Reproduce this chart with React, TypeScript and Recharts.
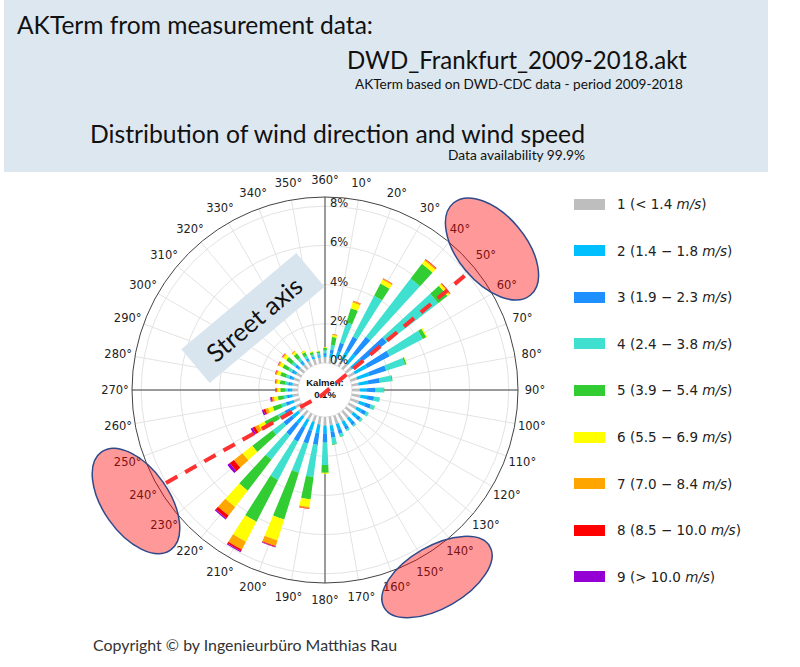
import React from "react";
import {
  RadialBarChart,
  RadialBar,
  PolarAngleAxis,
  PolarRadiusAxis,
  PolarGrid,
} from "recharts";

// wind directions, clockwise from north
const directions = [
  "360°", "10°", "20°", "30°", "40°", "50°", "60°", "70°", "80°",
  "90°", "100°", "110°", "120°", "130°", "140°", "150°", "160°", "170°",
  "180°", "190°", "200°", "210°", "220°", "230°", "240°", "250°", "260°",
  "270°", "280°", "290°", "300°", "310°", "320°", "330°", "340°", "350°",
];

// frequency in % per speed class, same order as directions
const class1 = [0.3, 0.3, 0.35, 0.35, 0.35, 0.35, 0.35, 0.35, 0.35, 0.4, 0.45, 0.45, 0.45, 0.45, 0.45, 0.45, 0.45, 0.45, 0.45, 0.4, 0.35, 0.35, 0.35, 0.35, 0.35, 0.3, 0.3, 0.3, 0.3, 0.3, 0.3, 0.3, 0.3, 0.3, 0.3, 0.3];
const class2 = [0.1, 0.2, 0.35, 0.55, 0.6, 0.65, 0.7, 0.65, 0.5, 0.35, 0.35, 0.33, 0.3, 0.28, 0.27, 0.27, 0.3, 0.33, 0.4, 0.45, 0.45, 0.45, 0.45, 0.4, 0.3, 0.22, 0.15, 0.12, 0.12, 0.12, 0.12, 0.12, 0.1, 0.08, 0.07, 0.07];
const class3 = [0.1, 0.2, 0.45, 0.8, 1.1, 1.6, 1.3, 0.9, 0.6, 0.45, 0.35, 0.3, 0.25, 0.2, 0.18, 0.18, 0.22, 0.3, 0.45, 0.6, 0.7, 0.8, 0.75, 0.55, 0.3, 0.2, 0.13, 0.1, 0.1, 0.12, 0.12, 0.13, 0.1, 0.08, 0.06, 0.06];
const class4 = [0.15, 0.25, 1.1, 2.35, 3.75, 3.3, 1.9, 1.0, 0.6, 0.42, 0.28, 0.2, 0.14, 0.11, 0.09, 0.09, 0.16, 0.32, 1.15, 1.65, 1.55, 2.2, 1.55, 0.7, 0.4, 0.25, 0.17, 0.13, 0.15, 0.18, 0.2, 0.22, 0.2, 0.15, 0.1, 0.1];
const class5 = [0.12, 0.4, 0.75, 0.7, 0.95, 0.6, 0.2, 0.08, 0.05, 0.03, 0.02, 0.02, 0.01, 0.01, 0.01, 0.01, 0.02, 0.05, 0.4, 1.15, 2.5, 2.4, 2.0, 1.3, 0.75, 0.45, 0.3, 0.25, 0.28, 0.3, 0.33, 0.35, 0.28, 0.2, 0.12, 0.09];
const class6 = [0.03, 0.1, 0.3, 0.22, 0.2, 0.12, 0.05, 0.02, 0, 0, 0, 0, 0, 0, 0, 0, 0, 0, 0.05, 0.4, 1.12, 1.15, 1.05, 0.63, 0.35, 0.25, 0.2, 0.15, 0.15, 0.17, 0.18, 0.18, 0.12, 0.07, 0.04, 0.03];
const class7 = [0, 0.04, 0.08, 0.06, 0.07, 0.05, 0, 0, 0, 0, 0, 0, 0, 0, 0, 0, 0, 0, 0, 0.07, 0.3, 0.45, 0.55, 0.55, 0.2, 0.15, 0.1, 0.05, 0.06, 0.07, 0.07, 0.07, 0.04, 0.02, 0.01, 0];
const class8 = [0, 0.01, 0.02, 0.02, 0.03, 0.03, 0, 0, 0, 0, 0, 0, 0, 0, 0, 0, 0, 0, 0, 0.03, 0.05, 0.1, 0.18, 0.27, 0.15, 0.1, 0.06, 0.03, 0.03, 0.03, 0.02, 0.02, 0.01, 0, 0, 0];
const class9 = [0, 0, 0, 0, 0, 0, 0, 0, 0, 0, 0, 0, 0, 0, 0, 0, 0, 0, 0, 0, 0.03, 0.05, 0.07, 0.15, 0.1, 0.08, 0.04, 0.02, 0.01, 0.01, 0.01, 0.01, 0, 0, 0, 0];

const classValues = [class1, class2, class3, class4, class5, class6, class7, class8, class9];
const classRanges = ["< 1.4", "1.4 − 1.8", "1.9 − 2.3", "2.4 − 3.8", "3.9 − 5.4", "5.5 − 6.9", "7.0 − 8.4", "8.5 − 10.0", "> 10.0"];
const classColors = ["#bebebe", "#00bfff", "#1e90ff", "#40e0d0", "#32cd32", "#ffff00", "#ffa500", "#ff0000", "#9400d3"];

const radiusTicks = [0, 2, 4, 6, 8];
const radiusMax = 8.47;

const CX = 325;
const CY = 390;
const INNER = 27;
const OUTER = 193;
const STEP = 360 / directions.length;
const HALF = STEP / 2;
const RAD = Math.PI / 180;

// bars sit half a band after the band start, so the range is turned by half a band
const gridAngles = directions.map((_, i) => 90 - i * STEP);

const data = directions.map((dir, i) => {
  const row: Record<string, string | number> = { dir };
  classValues.forEach((vals, k) => {
    row[`c${k + 1}`] = vals[i];
  });
  return row;
});

function AngleTick(props: any) {
  const { payload } = props;
  const cx = props.cx ?? CX;
  const cy = props.cy ?? CY;
  const a = (payload.coordinate + HALF) * RAD;
  return (
    <text
      x={cx + Math.cos(a) * 210}
      y={cy - Math.sin(a) * 210}
      textAnchor="middle"
      dominantBaseline="central"
      fontFamily="DejaVu Sans"
      fontSize={11.5}
      fill="#222"
    >
      {payload.value}
    </text>
  );
}

function RadiusTick(props: any) {
  const { x, y, payload } = props;
  return (
    <text x={x + 5} y={y - 3} dominantBaseline="central" fontFamily="DejaVu Sans" fontSize={11.5} fill="#222">
      {payload.value}%
    </text>
  );
}

function LegendBox() {
  return (
    <div style={{ position: "absolute", left: 574, top: 0 }}>
      {classRanges.map((range, i) => {
        const cy = 204 + i * 46.6;
        return (
          <div key={i}>
            <div
              style={{
                position: "absolute",
                left: 0,
                top: cy - 5.5,
                width: 31,
                height: 11,
                background: classColors[i],
              }}
            />
            <div
              style={{
                position: "absolute",
                left: 43,
                top: cy - 9,
                whiteSpace: "nowrap",
                fontFamily: "DejaVu Sans",
                fontSize: 13.5,
                lineHeight: "18px",
                color: "#222",
              }}
            >
              {i + 1} ({range} <i>m/s</i>)
            </div>
          </div>
        );
      })}
    </div>
  );
}

export default function App() {
  return (
    <div style={{ position: "absolute", left: 0, top: 0, width: 800, height: 667, background: "#fff" }}>
      <div style={{ position: "absolute", left: 0, top: 0 }}>
        <RadialBarChart
          width={800}
          height={667}
          data={data}
          cx={CX}
          cy={CY}
          innerRadius={INNER}
          outerRadius={OUTER}
          startAngle={90 - HALF}
          endAngle={-270 - HALF}
          layout="centric"
          barCategoryGap="25%"
          margin={{ top: 0, right: 0, bottom: 0, left: 0 }}
        >
          <PolarGrid gridType="circle" polarAngles={gridAngles} stroke="#e3e3e3" />
          <PolarGrid gridType="circle" polarAngles={[0, 90, 180, 270]} polarRadius={[OUTER]} stroke="#444" />
          <PolarAngleAxis type="category" dataKey="dir" tick={AngleTick} axisLine={false} tickLine={false} />
          <PolarRadiusAxis
            type="number"
            angle={90}
            domain={[0, radiusMax]}
            ticks={radiusTicks}
            allowDataOverflow
            axisLine={false}
            tick={RadiusTick}
          />
          {classColors.map((color, k) => (
            <RadialBar key={k} dataKey={`c${k + 1}`} stackId="speed" fill={color} isAnimationActive={false} />
          ))}
        </RadialBarChart>
      </div>

      <LegendBox />

      <svg width={800} height={667} style={{ position: "absolute", left: 0, top: 0, pointerEvents: "none" }}>
        <rect x={4} y={0} width={764} height={172} fill="#dde7ef" />
        <text x={17} y={34} fontFamily="Lato" fontSize={25} fill="#111" textLength={356} lengthAdjust="spacingAndGlyphs">
          AKTerm from measurement data:
        </text>
        <text x={347} y={69} fontFamily="Lato" fontSize={25} fill="#111" textLength={340} lengthAdjust="spacingAndGlyphs">
          DWD_Frankfurt_2009-2018.akt
        </text>
        <text x={355} y={89} fontFamily="Lato" fontSize={12.5} fill="#111" textLength={328} lengthAdjust="spacingAndGlyphs">
          AKTerm based on DWD-CDC data - period 2009-2018
        </text>
        <text x={90} y={143} fontFamily="Lato" fontSize={25} fill="#111" textLength={495} lengthAdjust="spacingAndGlyphs">
          Distribution of wind direction and wind speed
        </text>
        <text x={448} y={160} fontFamily="Lato" fontSize={12.5} fill="#111" textLength={137} lengthAdjust="spacingAndGlyphs">
          Data availability 99.9%
        </text>

        <g transform="translate(253 318) rotate(-40)">
          <rect x={-75} y={-22} width={150} height={44} fill="#d9e5ee" />
          <text x={0} y={1} textAnchor="middle" dominantBaseline="central" fontFamily="Lato" fontSize={25} fill="#111" textLength={116} lengthAdjust="spacingAndGlyphs">
            Street axis
          </text>
        </g>

        <text x={CX} y={386} textAnchor="middle" fontFamily="Liberation Sans" fontWeight="bold" fontSize={9.5} fill="#111">
          Kalmen:
        </text>
        <text x={CX} y={398} textAnchor="middle" fontFamily="Liberation Sans" fontWeight="bold" fontSize={9.5} fill="#111">
          0.1%
        </text>

        <polyline points="166,483 322,395 468,273" fill="none" stroke="#ff3030" strokeWidth={4} strokeDasharray="13 9" />

        <ellipse cx={492} cy={249} rx={60} ry={34} transform="rotate(50 492 249)" fill="rgba(255,0,0,0.4)" stroke="#2e4a8a" strokeWidth={1.5} />
        <ellipse cx={437} cy={577} rx={61} ry={31} transform="rotate(-30 437 577)" fill="rgba(255,0,0,0.4)" stroke="#2e4a8a" strokeWidth={1.5} />
        <ellipse cx={136} cy={501} rx={60} ry={33} transform="rotate(55 136 501)" fill="rgba(255,0,0,0.4)" stroke="#2e4a8a" strokeWidth={1.5} />

        <text x={93} y={651} fontFamily="Lato" fontSize={16} fill="#333" textLength={304} lengthAdjust="spacingAndGlyphs">
          Copyright © by Ingenieurbüro Matthias Rau
        </text>
      </svg>
    </div>
  );
}
